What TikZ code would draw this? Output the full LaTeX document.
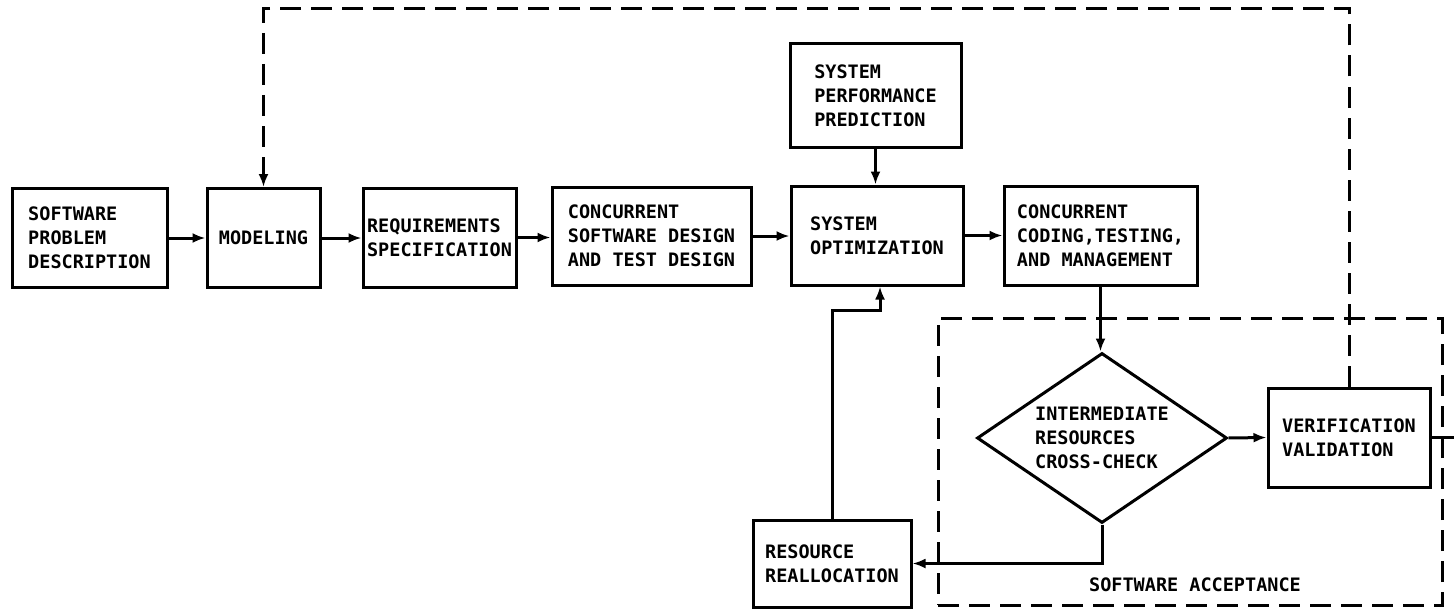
\documentclass[tikz,border=0pt]{standalone}
\usepackage{fontspec}
\newfontfamily\plotfont{DejaVu Sans Mono}
\usetikzlibrary{shapes.geometric,arrows.meta}
\tikzset{
    blk/.style={draw, line width=3pt, align=left, inner sep=0pt,
        font=\plotfont\bfseries\fontsize{18.5}{24}\selectfont},
    flow/.style={line width=3pt, -{Latex[length=13pt,width=10pt]}},
    fb/.style={flow, dash pattern=on 21pt off 10pt},
    grp/.style={draw, line width=3pt, dash pattern=on 21pt off 10pt, inner sep=0pt}
}

\begin{document}
\begin{tikzpicture}[x=1pt, y=-1pt]
    \useasboundingbox (0,0) rectangle (1454,610);
    % main chain
    \node[blk, minimum width=155pt, minimum height=99pt] (spd) at (89.5,238) {SOFTWARE\\PROBLEM\\DESCRIPTION};
    \node[blk, minimum width=113pt, minimum height=99pt] (model) at (263.5,238) {MODELING};
    \node[blk, minimum width=153pt, minimum height=99pt] (req) at (439.5,237.5) {REQUIREMENTS\\SPECIFICATION};
    \node[blk, minimum width=199pt, minimum height=98pt] (csd) at (651.5,236) {CONCURRENT\\SOFTWARE DESIGN\\AND TEST DESIGN};
    \node[blk, minimum width=171pt, minimum height=103pt] (spp) at (875.5,95.5) {SYSTEM\\PERFORMANCE\\PREDICTION};
    \node[blk, minimum width=172pt, minimum height=99pt] (sysopt) at (877,235.5) {SYSTEM\\OPTIMIZATION};
    \node[blk, minimum width=193pt, minimum height=99pt] (ccode) at (1100.5,235.5) {CONCURRENT\\CODING,TESTING,\\AND MANAGEMENT};
    % acceptance group
    \node[grp, minimum width=504pt, minimum height=287pt] (acc) at (1190,461.5) {};
    \node[font=\plotfont\bfseries\fontsize{18.5}{24}\selectfont, inner sep=0pt] (acclbl) at (1195,585) {SOFTWARE ACCEPTANCE};
    \node[blk, shape=diamond, aspect=1.5, minimum width=250pt, minimum height=170pt] (dia) at (1102,438) {INTERMEDIATE\\RESOURCES\\CROSS-CHECK};
    \node[blk, minimum width=162pt, minimum height=99pt] (verif) at (1349,437.5) {VERIFICATION\\VALIDATION};
    \node[blk, minimum width=158pt, minimum height=87pt] (realloc) at (832,563.5) {RESOURCE\\REALLOCATION};
    \coordinate (exit) at (1454,437.5);

    \draw[flow] (spd.east) -- (spd.east -| model.west);
    \draw[flow] (model.east) -- (model.east -| req.west);
    \draw[flow] (req.east) -- (req.east -| csd.west);
    \draw[flow] (csd.east) -- (csd.east -| sysopt.west);
    \draw[flow] (sysopt.east) -- (ccode.west);
    \draw[flow] (spp.south) -- (spp.south |- sysopt.north);
    \draw[flow] (ccode.south) -- (ccode.south |- dia.north);
    \draw[flow] (dia.east) -- (verif.west);
    \draw[flow] (dia.south) |- (realloc.east);
    \draw[flow] (realloc.north) -- ++(0,-208) -| ([xshift=3pt]sysopt.south);
    \draw[line width=3pt] (verif.east) -- (exit);
    \draw[fb] (verif.north) -- ++(0,-378) -| (model.north);
\end{tikzpicture}
\end{document}
